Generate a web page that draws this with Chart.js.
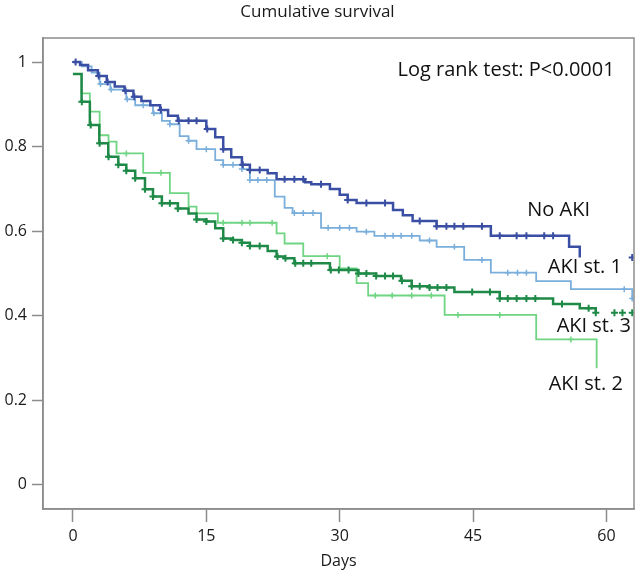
<!DOCTYPE html>
<html>
<head>
<meta charset="utf-8">
<script src="https://cdn.jsdelivr.net/npm/chart.js@4/dist/chart.umd.min.js"></script>
<style>
  html, body { margin: 0; padding: 0; background: #fff; }
  #wrap { width: 640px; height: 574px; }
</style>
</head>
<body>
<div id="wrap"><canvas id="km"></canvas></div>
<script>
// Kaplan-Meier steps: day at which the curve drops, and the survival after the drop
const noAkiDays = [0, 0.8, 1.7, 2.8, 3.8, 4.7, 5.8, 6.8, 7.7, 8.7, 9.8, 10.7, 11.8, 15.0, 16.0, 16.9, 17.8, 19.0, 19.9, 21.9, 22.9, 26.1, 26.8, 28.9, 30.0, 30.9, 31.9, 36.0, 37.1, 38.2, 40.9, 47.0, 55.8, 57.0];
const noAkiSurv = [1.0, 0.993, 0.981, 0.967, 0.953, 0.942, 0.932, 0.918, 0.908, 0.898, 0.887, 0.873, 0.861, 0.842, 0.822, 0.794, 0.775, 0.757, 0.745, 0.737, 0.723, 0.716, 0.711, 0.700, 0.686, 0.674, 0.667, 0.650, 0.638, 0.624, 0.612, 0.589, 0.563, 0.538];

const aki1Days = [0, 1.0, 2.1, 3.0, 4.2, 6.0, 7.0, 9.0, 10.0, 10.9, 12.0, 13.0, 13.9, 16.0, 16.9, 19.0, 19.9, 22.7, 23.8, 24.7, 27.9, 31.9, 33.9, 39.0, 40.9, 44.0, 47.0, 52.1, 56.0, 62.9];
const aki1Surv = [1.0, 0.99, 0.975, 0.948, 0.935, 0.912, 0.898, 0.879, 0.861, 0.853, 0.825, 0.814, 0.794, 0.768, 0.757, 0.747, 0.721, 0.682, 0.655, 0.643, 0.608, 0.599, 0.589, 0.578, 0.563, 0.532, 0.502, 0.482, 0.463, 0.441];

const aki2Days = [0, 0.97, 1.9, 3.0, 4.0, 4.9, 7.9, 10.9, 13.0, 13.9, 16.3, 22.9, 23.8, 25.9, 30.0, 31.9, 33.2, 41.8, 52.1, 58.9];
const aki2Surv = [0.972, 0.926, 0.883, 0.827, 0.812, 0.784, 0.738, 0.690, 0.658, 0.642, 0.620, 0.595, 0.571, 0.541, 0.512, 0.477, 0.448, 0.402, 0.344, 0.276];

const aki3Days = [0, 0.97, 1.9, 2.96, 3.97, 5.1, 6.0, 7.0, 8.1, 9.0, 10.0, 11.8, 13.0, 13.9, 15.0, 16.0, 16.9, 18.0, 19.0, 19.9, 21.9, 22.9, 23.8, 24.9, 28.9, 32.1, 34.1, 36.9, 38.1, 40.1, 42.9, 48.0, 54.0, 57.0, 58.8];
const aki3Surv = [0.972, 0.906, 0.851, 0.808, 0.776, 0.757, 0.743, 0.725, 0.699, 0.682, 0.666, 0.654, 0.642, 0.628, 0.623, 0.607, 0.583, 0.579, 0.573, 0.565, 0.553, 0.540, 0.536, 0.524, 0.508, 0.500, 0.494, 0.483, 0.470, 0.467, 0.456, 0.441, 0.428, 0.418, 0.407];

// censored observations (days)
const noAkiCensor = [0.3, 2.9, 3.9, 5.9, 6.9, 9.9, 11.9, 13.0, 13.9, 15.1, 16.9, 19.1, 19.9, 21.0, 23.8, 24.9, 25.9, 27.9, 30.9, 33.0, 35.1, 39.0, 40.9, 42.0, 42.9, 43.9, 46.0, 48.0, 49.9, 51.0, 53.0, 54.0, 62.9];
const aki1Censor = [3.1, 4.3, 6.1, 7.9, 9.1, 10.9, 13.0, 15.0, 16.9, 18.0, 19.0, 19.9, 20.8, 21.8, 24.9, 25.9, 27.0, 28.7, 30.0, 31.1, 33.0, 35.1, 36.0, 36.9, 38.1, 40.1, 42.9, 46.0, 48.9, 50.0, 51.0, 62.0, 62.9];
const aki2Censor = [6.0, 9.9, 16.9, 19.0, 19.9, 22.4, 28.6, 34.0, 35.9, 38.1, 40.3, 43.3, 48.0, 56.0];
const aki3Censor = [1.0, 2.0, 3.0, 4.0, 5.1, 6.0, 7.0, 8.1, 9.0, 10.0, 10.9, 11.8, 13.9, 15.0, 16.9, 18.0, 19.0, 19.9, 21.0, 23.0, 23.9, 25.0, 25.9, 26.8, 29.0, 29.9, 31.0, 32.1, 33.0, 34.1, 35.1, 36.0, 37.0, 38.1, 39.0, 40.1, 41.0, 42.0, 44.9, 46.9, 48.0, 48.9, 49.9, 51.0, 52.0, 55.0, 58.0, 58.8, 60.9, 61.8, 62.9];

const xTicks = [0, 15, 30, 45, 60];
const yTicks = [0, 0.2, 0.4, 0.6, 0.8, 1];

const FONT = "'Open Sans', 'Liberation Sans', sans-serif";
const AXIS = '#8c8c8c';

function steps(days, surv) {
    return days.map((d, i) => ({ x: d, y: surv[i] }));
}

// survival value of the step function at day t
function survAt(days, surv, t) {
    let v = surv[0];
    for (let i = 0; i < days.length; i++) {
        if (days[i] <= t) v = surv[i];
    }
    return v;
}

function censors(cDays, days, surv) {
    return cDays.map(t => ({ x: t, y: survAt(days, surv, t) }));
}

const groups = [
    { name: 'No AKI', days: noAkiDays, surv: noAkiSurv, cens: noAkiCensor, color: '#3a4fa3', width: 2.5, mark: 3.5 },
    { name: 'AKI st. 3', days: aki3Days, surv: aki3Surv, cens: aki3Censor, color: '#1f8a48', width: 2.5, mark: 3.5 },
    { name: 'AKI st. 1', days: aki1Days, surv: aki1Surv, cens: aki1Censor, color: '#7aaedb', width: 1.8, mark: 3 },
    { name: 'AKI st. 2', days: aki2Days, surv: aki2Surv, cens: aki2Censor, color: '#6fd583', width: 1.8, mark: 3 }
];

const datasets = [];
groups.forEach(g => {
    datasets.push({
        label: g.name,
        data: steps(g.days, g.surv),
        borderColor: g.color,
        borderWidth: g.width,
        stepped: 'before',
        pointRadius: 0,
        fill: false
    });
    datasets.push({
        label: g.name + ' censored',
        data: censors(g.cens, g.days, g.surv),
        showLine: false,
        pointStyle: 'cross',
        pointRadius: g.mark,
        pointBorderWidth: g.width > 2 ? 2 : 1.5,
        pointBorderColor: g.color,
        pointBackgroundColor: g.color
    });
});

// text placed in data coordinates (day, survival)
const notes = [
    { text: 'Log rank test: P<0.0001', x: 36.5, y: 0.981 },
    { text: 'No AKI', x: 51.1, y: 0.650 },
    { text: 'AKI st. 1', x: 53.4, y: 0.515 },
    { text: 'AKI st. 3', x: 54.4, y: 0.376 },
    { text: 'AKI st. 2', x: 53.5, y: 0.239 }
];

const framePlugin = {
    id: 'frame',
    afterDraw(chart) {
        const { ctx, chartArea: a, scales } = chart;
        ctx.save();
        ctx.strokeStyle = AXIS;
        ctx.lineWidth = 1.5;
        ctx.strokeRect(a.left, a.top, a.right - a.left, a.bottom - a.top);
        ctx.fillStyle = '#111';
        ctx.font = '20px ' + FONT;
        ctx.textAlign = 'left';
        ctx.textBaseline = 'middle';
        notes.forEach(n => {
            ctx.fillText(n.text, scales.x.getPixelForValue(n.x), scales.y.getPixelForValue(n.y));
        });
        ctx.restore();
    }
};

new Chart(document.getElementById('km'), {
    type: 'line',
    data: { datasets: datasets },
    options: {
        responsive: true,
        maintainAspectRatio: false,
        animation: false,
        layout: { padding: { left: 0, right: 5, top: 0, bottom: 0 } },
        plugins: {
            legend: { display: false },
            tooltip: { enabled: false },
            title: {
                display: true,
                text: 'Cumulative survival',
                color: '#1a1a1a',
                font: { family: FONT, size: 17, weight: 'normal' },
                padding: { top: 2, bottom: 15.6 }
            }
        },
        scales: {
            x: {
                type: 'linear',
                min: -3.37,
                max: 63.1,
                afterBuildTicks: s => { s.ticks = xTicks.map(v => ({ value: v })); },
                afterFit: s => { s.height = 65; },
                ticks: { color: '#1a1a1a', font: { family: FONT, size: 16 }, padding: 5, maxRotation: 0 },
                grid: { drawOnChartArea: false, drawTicks: true, tickLength: 13, tickColor: AXIS, tickWidth: 1.5 },
                border: { display: true, color: AXIS, width: 1.5 },
                title: {
                    display: true,
                    text: 'Days',
                    color: '#1a1a1a',
                    font: { family: FONT, size: 16 },
                    padding: { top: 0, bottom: 3 }
                }
            },
            y: {
                type: 'linear',
                min: -0.057,
                max: 1.057,
                afterBuildTicks: s => { s.ticks = yTicks.map(v => ({ value: v })); },
                afterFit: s => { s.width = 43; },
                ticks: {
                    color: '#1a1a1a',
                    font: { family: FONT, size: 16 },
                    padding: 5,
                    callback: v => String(Number(v.toFixed(1)))
                },
                grid: { drawOnChartArea: false, drawTicks: true, tickLength: 11, tickColor: AXIS, tickWidth: 1.5 },
                border: { display: true, color: AXIS, width: 1.5 }
            }
        }
    },
    plugins: [framePlugin]
});
</script>
</body>
</html>
